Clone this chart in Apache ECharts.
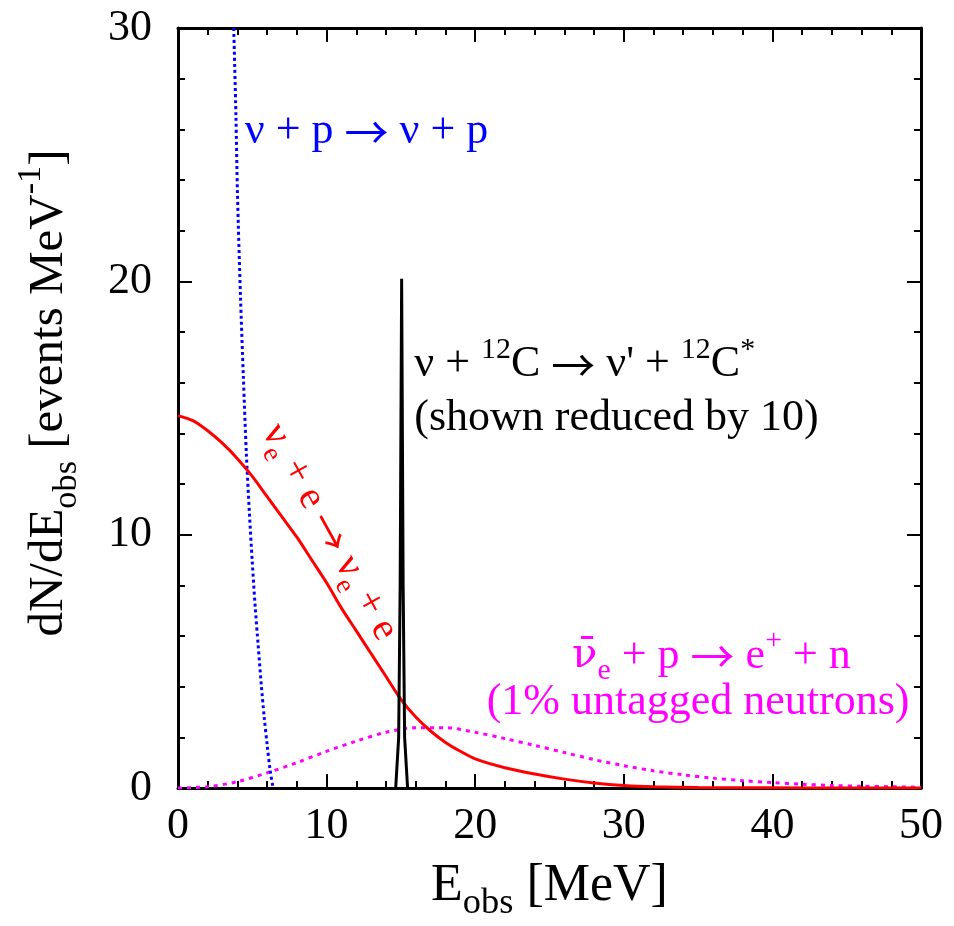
<!DOCTYPE html>
<html>
<head>
<meta charset="utf-8">
<script src="https://cdn.jsdelivr.net/npm/echarts@6/dist/echarts.min.js"></script>
<style>
  html, body { margin: 0; padding: 0; background: #fff; }
  #chart { width: 954px; height: 926px; }
</style>
</head>
<body>
<div id="chart"></div>
<script>
// nu_e + e elastic scattering (red, solid)
const elasticE = [0, 1, 2, 3, 4, 5, 6, 7, 8, 9, 10, 11, 12, 13, 14, 15, 16, 17, 18, 19, 20, 22, 24, 26, 28, 30, 32, 35, 40, 45, 50];
const elasticN = [14.7, 14.5, 14.1, 13.6, 13.0, 12.3, 11.5, 10.7, 9.9, 9.0, 8.1, 7.1, 6.2, 5.3, 4.4, 3.5, 2.8, 2.25, 1.8, 1.45, 1.15, 0.8, 0.55, 0.35, 0.2, 0.1, 0.05, 0.02, 0.005, 0, 0];

// nu + p -> nu + p (blue, dotted)
const protonE = [3.75, 3.9, 4.0, 4.2, 4.4, 4.6, 4.8, 5.0, 5.2, 5.4, 5.6, 5.8, 6.0, 6.2, 6.4];
const protonN = [30, 26.5, 23.5, 19.5, 16.2, 13.2, 10.9, 8.9, 7.1, 5.6, 4.1, 2.8, 1.7, 0.7, 0];

// anti-nu_e + p (magenta, dotted)
const ibdE = [0, 2, 4, 6, 8, 10, 12, 14, 16, 18, 20, 22, 24, 26, 28, 30, 32, 34, 36, 38, 40, 42, 44, 46, 48, 50];
const ibdN = [0, 0.05, 0.25, 0.6, 1.0, 1.45, 1.85, 2.2, 2.38, 2.38, 2.2, 1.95, 1.68, 1.4, 1.12, 0.88, 0.68, 0.52, 0.39, 0.29, 0.21, 0.15, 0.1, 0.07, 0.05, 0.03];

// nu + 12C -> nu' + 12C* line (black)
const carbonE = [14.65, 14.85, 14.95, 15.05, 15.15, 15.25, 15.45];
const carbonN = [0, 2, 8, 20.1, 8, 2, 0];

const xMin = 0, xMax = 50, xStep = 10;
const yMin = 0, yMax = 30, yStep = 10;

const FONT = '"Liberation Serif", "Times New Roman", serif';
const ARROW_FONT = '"Noto Sans CJK SC", "DejaVu Sans", sans-serif';
const zip = (a, b) => a.map((v, i) => [v, b[i]]);

const chart = echarts.init(document.getElementById('chart'));

function frameAxis(pos, min, max, step, showLabel, extra) {
  return Object.assign({
    type: 'value',
    position: pos,
    min: min, max: max, interval: step,
    axisLine: { show: true, onZero: false, lineStyle: { color: '#000', width: 3 } },
    axisTick: { show: true, inside: true, length: 14, lineStyle: { color: '#000', width: 2 } },
    minorTick: { show: true, splitNumber: 5, length: 7, lineStyle: { color: '#000', width: 2 } },
    splitLine: { show: false },
    axisLabel: {
      show: showLabel, color: '#000', fontFamily: FONT, fontSize: 44,
      showMinLabel: true, showMaxLabel: true
    }
  }, extra || {});
}

const axisRich = (size) => ({
  m: { fontFamily: FONT, fontSize: size, color: '#000', lineHeight: 70 },
  s: { fontFamily: FONT, fontSize: size * 0.7, color: '#000', lineHeight: 46, verticalAlign: 'bottom' },
  u: { fontFamily: FONT, fontSize: size * 0.7, color: '#000', lineHeight: 50, verticalAlign: 'top' }
});

chart.setOption({
  animation: false,
  backgroundColor: '#fff',
  grid: { left: 178, right: 33, top: 28, bottom: 138, outerBoundsMode: 'none' },
  xAxis: [
    frameAxis('bottom', xMin, xMax, xStep, true, {
      axisLabel: { show: true, color: '#000', fontFamily: FONT, fontSize: 44, margin: 16, showMinLabel: true, showMaxLabel: true },
      name: '{m|E}{s|obs}{m| [MeV]}',
      nameLocation: 'middle',
      nameGap: 63,
      nameTextStyle: { rich: axisRich(52) }
    }),
    frameAxis('top', xMin, xMax, xStep, false)
  ],
  yAxis: [
    frameAxis('left', yMin, yMax, yStep, true, {
      axisLabel: { show: true, color: '#000', fontFamily: FONT, fontSize: 44, margin: 26, showMinLabel: true, showMaxLabel: true },
      name: '{m|dN/dE}{s|obs}{m| [events MeV}{u|-1}{m|]}',
      nameLocation: 'middle',
      nameGap: 94,
      nameTextStyle: { rich: axisRich(49), padding: [0, 0, 0, 30] }
    }),
    frameAxis('right', yMin, yMax, yStep, false)
  ],
  series: [
    {
      type: 'line', data: zip(ibdE, ibdN), showSymbol: false, smooth: 0.3,
      lineStyle: { color: '#ff00ff', width: 3, type: [4, 5] }, z: 2
    },
    {
      type: 'line', data: zip(protonE, protonN), showSymbol: false, smooth: 0.3,
      lineStyle: { color: '#0000ff', width: 3, type: [3, 3] }, z: 3
    },
    {
      type: 'line', data: zip(elasticE, elasticN), showSymbol: false, smooth: 0.3,
      lineStyle: { color: '#ff0000', width: 3 }, z: 4
    },
    {
      type: 'line', data: zip(carbonE, carbonN), showSymbol: false,
      lineStyle: { color: '#000', width: 3 }, z: 5
    }
  ]
});

// annotations, anchored in data coordinates
const textRich = (color, size) => ({
  s: { fontFamily: FONT, fontSize: size * 0.68, fill: color, lineHeight: size * 0.95, verticalAlign: 'bottom' },
  u: { fontFamily: FONT, fontSize: size * 0.68, fill: color, lineHeight: size * 0.9, verticalAlign: 'top' },
  a: { fontFamily: ARROW_FONT, fontSize: size, fill: color, lineHeight: size },
  nb: { fontFamily: '"DejaVu Serif", serif', fontSize: size * 0.95, fill: color, lineHeight: size }
});

const labels = [
  { at: [4.5, 25.9], text: 'ν + p {a|→} ν + p', color: '#0000ff', align: 'left', size: 44 },
  { at: [15.9, 16.7], text: 'ν + {u|12}C {a|→} ν\' + {u|12}C{u|*}', color: '#000', align: 'left', size: 44 },
  { at: [15.9, 14.6], text: '(shown reduced by 10)', color: '#000', align: 'left', size: 44 },
  { at: [35.9, 5.2], text: '{nb|ν̄}{s|e} + p {a|→} e{u|+} + n', color: '#ff00ff', align: 'center', size: 44 },
  { at: [35.0, 3.36], text: '(1% untagged neutrons)', color: '#ff00ff', align: 'center', size: 44 },
  { at: [10.2, 10.1], text: 'ν{s|e} + e {a|→} ν{s|e} + e', color: '#ff0000', align: 'center', size: 40, rot: -61 }
];

chart.setOption({
  graphic: labels.map(l => {
    const p = chart.convertToPixel({ xAxisIndex: 0, yAxisIndex: 0 }, l.at);
    return {
      type: 'text',
      x: p[0], y: p[1],
      rotation: (l.rot || 0) * Math.PI / 180,
      z: 10,
      style: {
        text: l.text,
        fill: l.color,
        font: l.size + 'px ' + FONT,
        lineHeight: l.size * 1.35,
        align: l.align, textAlign: l.align,
        verticalAlign: 'middle', textVerticalAlign: 'middle',
        rich: textRich(l.color, l.size)
      }
    };
  })
});
</script>
</body>
</html>
